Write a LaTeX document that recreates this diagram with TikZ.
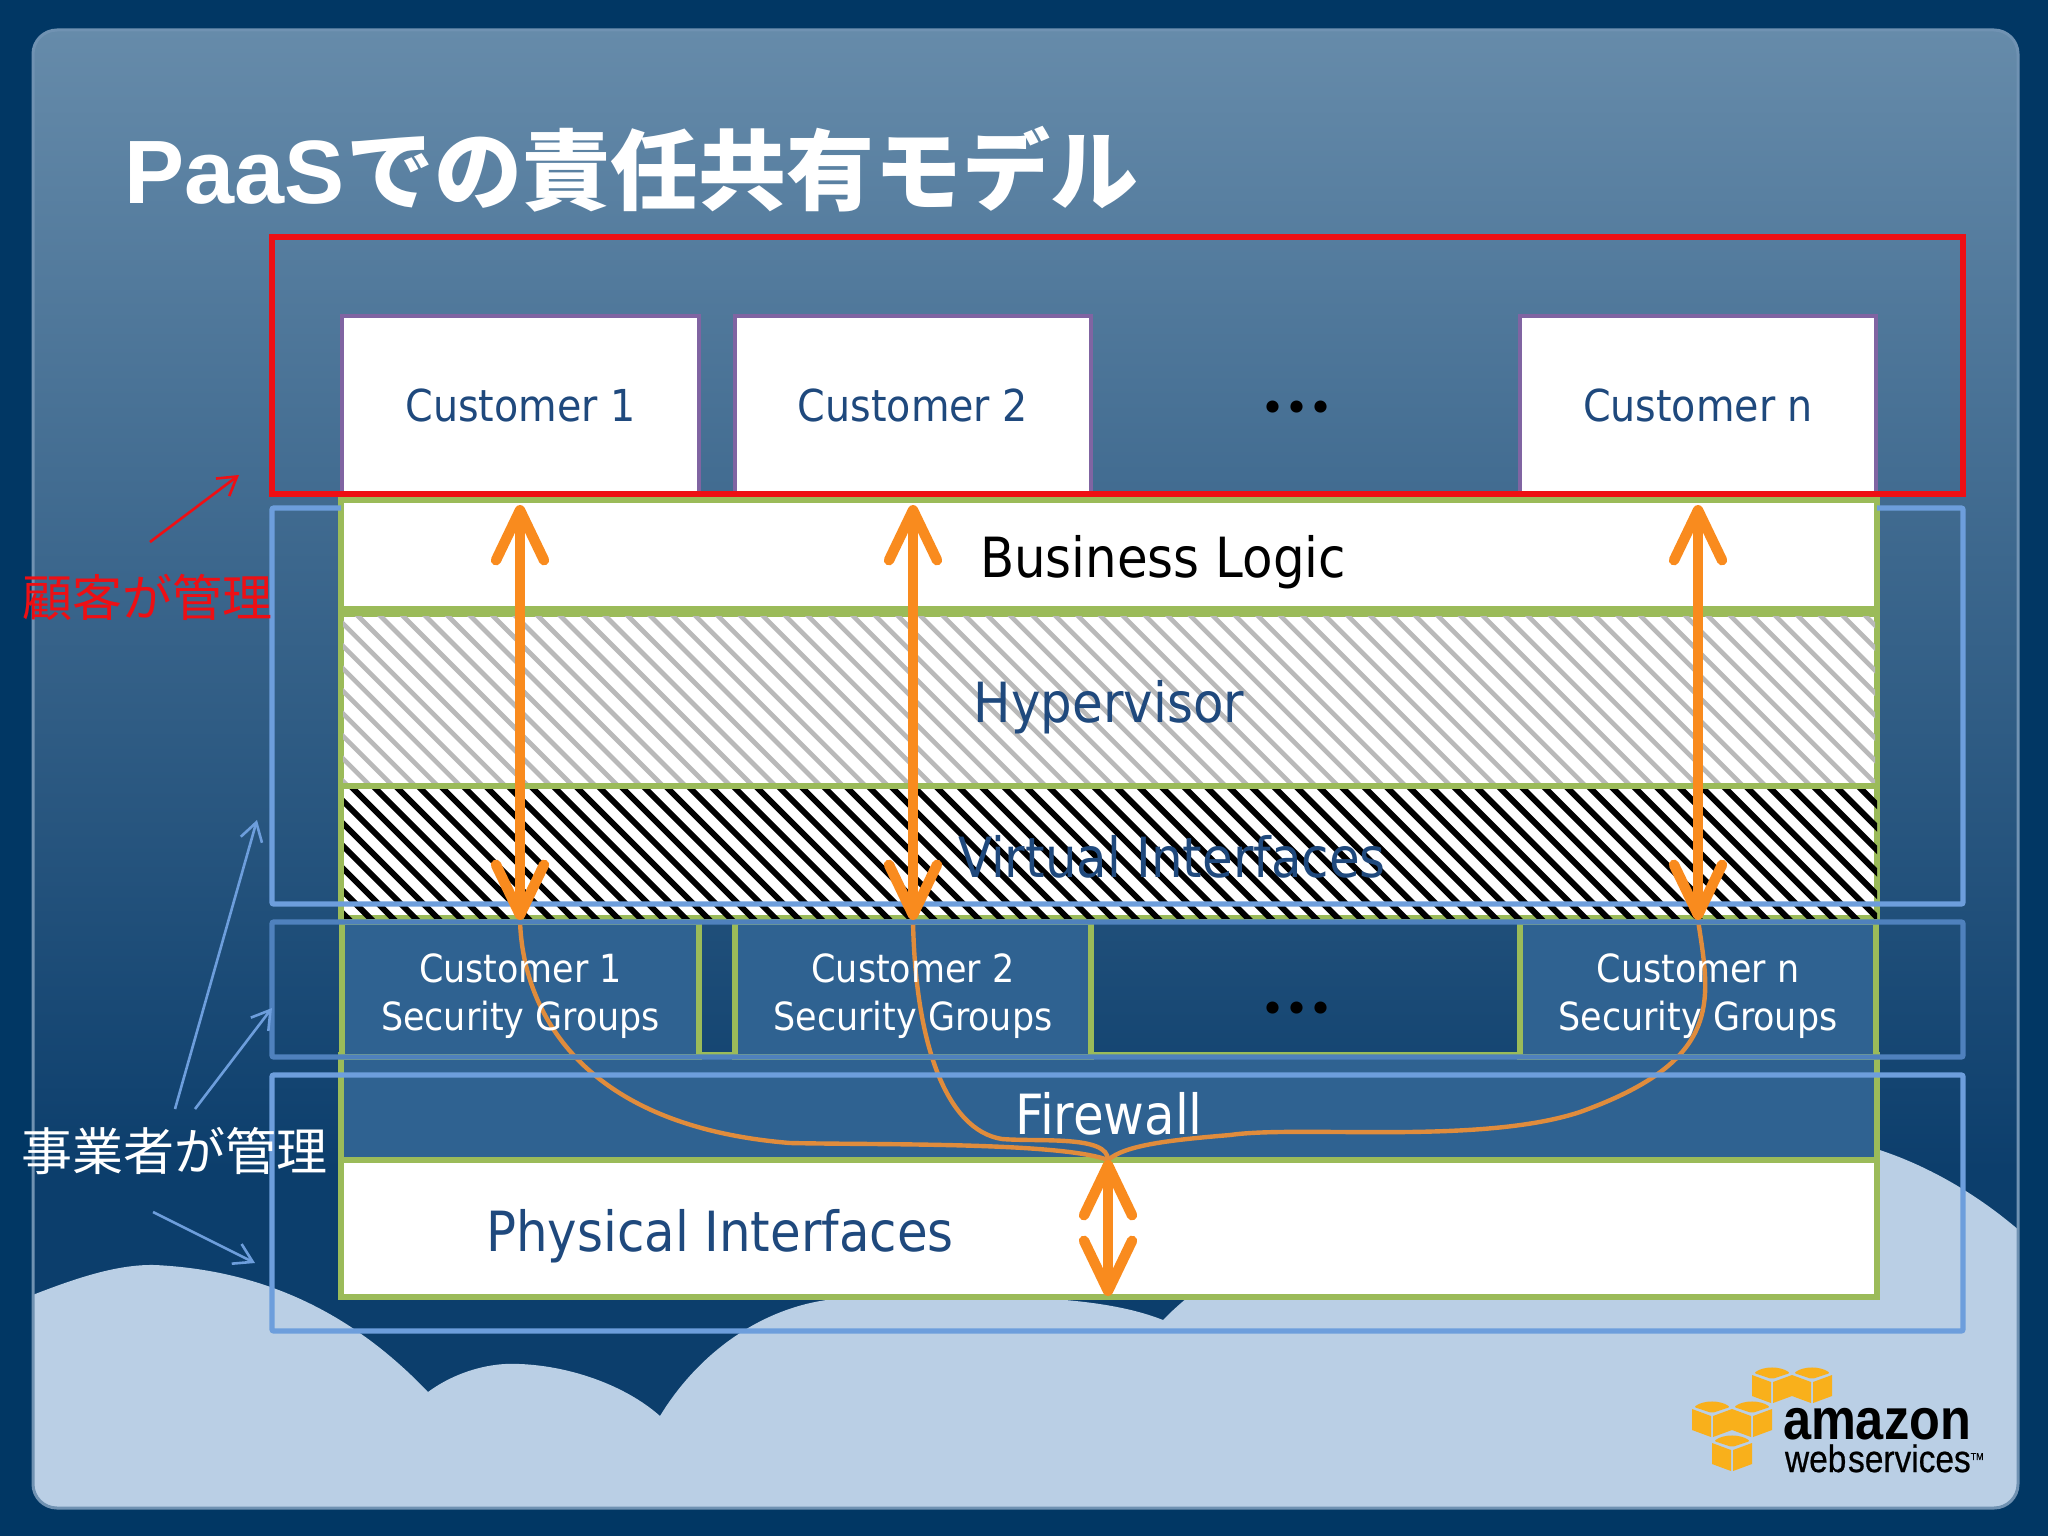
\documentclass[tikz,border=0pt]{standalone}
\usepackage{fontspec}
\setmainfont{DejaVu Sans Condensed}
\newfontfamily\arial{Liberation Sans}
\newfontfamily\cjk{Noto Sans CJK JP}
\newfontfamily\cjkm{Noto Sans CJK JP Medium}
\newfontfamily\lato{Lato}
\usetikzlibrary{arrows.meta,calc}
\definecolor{outer}{HTML}{013764}
\definecolor{ptop}{HTML}{668BAA}
\definecolor{pbot}{HTML}{0C3E6C}
\definecolor{pedge}{HTML}{7092B2}
\definecolor{cloud}{HTML}{BACFE5}
\definecolor{grn}{HTML}{9BBB59}
\definecolor{purp}{HTML}{8064A2}
\definecolor{redl}{HTML}{EE0F14}
\definecolor{blu}{HTML}{6D9EDC}
\definecolor{blud}{HTML}{4F81BD}
\definecolor{orng}{HTML}{F98B1E}
\definecolor{orthin}{HTML}{E08C3C}
\definecolor{navy}{HTML}{1F497D}
\definecolor{secf}{HTML}{2F6291}
\definecolor{cube}{HTML}{F9B01B}
\newcommand{\awscube}[2]{%
  \fill[cube,rounded corners=1pt] (#1-18,#2-12) .. controls (#1-8,#2-19) and (#1+8,#2-19) .. (#1+18,#2-12) -- (#1,#2-6) -- cycle;
  \fill[cube] (#1-20,#2-10) -- (#1-1,#2-3) -- (#1-1,#2+18) -- (#1-20,#2+11) -- cycle;
  \fill[cube] (#1+20,#2-10) -- (#1+1,#2-3) -- (#1+1,#2+18) -- (#1+20,#2+11) -- cycle;}
\tikzset{
  x=0.5pt,y=-0.5pt,
  bx/.style n args={2}{minimum width=#1*0.5pt,minimum height=#2*0.5pt,inner sep=0pt,outer sep=0pt,anchor=north west},
  cust/.style={draw=purp,line width=2.4pt,fill=white,text=navy,font=\fontsize{22}{26}\selectfont},
  secg/.style={draw=grn,line width=2.8pt,fill=secf},
  secl/.style={inner sep=0pt,outer sep=0pt,text=white,align=center,font=\fontsize{19.4}{24}\selectfont},
  layer/.style={draw=grn,line width=2.8pt},
  lbl/.style={inner sep=0pt,outer sep=0pt},
  big/.style={lbl,font=\fontsize{27.7}{32}\selectfont},
  frame/.style={line width=2.7pt,rounded corners=1pt},
  bigarrow/.style={draw=orng,line width=5.2pt,{Straight Barb[length=25pt,width=24pt,round,line width=5.2pt]}-{Straight Barb[length=25pt,width=24pt,round,line width=5.2pt]}},
  route/.style={draw=orthin,line width=2.2pt},
  note/.style={draw=blu,line width=1.3pt,-{Straight Barb[length=9pt,width=11pt]}},
  dotsl/.style={lbl,anchor=base,text=black,font=\lato\bfseries\fontsize{40}{40}\selectfont},
}
\begin{document}
\begin{tikzpicture}
\useasboundingbox (0,0) rectangle (2048,1536);
\fill[outer] (0,0) rectangle (2048,1536);
% panel and clouds
\begin{scope}
  \clip[rounded corners=12pt] (33,30) rectangle (2018,1508);
  \shade[top color=ptop,bottom color=pbot] (33,30) rectangle (2018,1170);
  \fill[pbot] (33,1170) rectangle (2018,1508);
  \fill[cloud] (20,1300) .. controls (70,1280) and (115,1264) .. (155,1265)
     .. controls (260,1270) and (350,1310) .. (428,1392)
     .. controls (455,1372) and (490,1362) .. (520,1364)
     .. controls (570,1366) and (625,1385) .. (660,1416)
     .. controls (700,1350) and (770,1300) .. (850,1298)
     .. controls (1000,1294) and (1100,1295) .. (1163,1320)
     .. controls (1260,1220) and (1500,1135) .. (1777,1133)
     .. controls (1880,1133) and (1970,1185) .. (2030,1240)
     -- (2030,1520) -- (20,1520) -- cycle;
\end{scope}
\draw[pedge,line width=1.5pt,rounded corners=12pt] (33,30) rectangle (2018,1508);
% logo
\awscube{1772}{1385}\awscube{1812}{1385}\awscube{1712}{1419}\awscube{1752}{1419}\awscube{1732}{1453}
\node[lbl,anchor=base west] (amz) at (1783,1439) {\scalebox{.87}[1]{\arial\bfseries\fontsize{29}{30}\selectfont amazon}};
\node[lbl,anchor=base west] (aws) at (1785,1472) {\scalebox{.88}[1]{\arial\fontsize{19}{20}\selectfont\addfontfeature{FakeBold=0.6}web\kern1pt services\raisebox{.6ex}{\fontsize{5}{5}\selectfont TM}}};
% title
\node[lbl,anchor=base west,text=white] (title) at (124,203) {\arial\bfseries\fontsize{45}{48}\selectfont PaaS\kern1pt{\cjkm\fontsize{44}{48}\selectfont での責任共有モデル}};
% customers
\node[cust,bx={357}{178}] (c1) at (342,316) {\raisebox{-2.5pt}{Customer 1}};
\node[cust,bx={356}{178}] (c2) at (735,316) {\raisebox{-2.5pt}{Customer 2}};
\node[cust,bx={356}{178}] (cn) at (1520,316) {\raisebox{-2.5pt}{Customer n}};
\node[dotsl] (dots1) at (1297,412) {.\kern2.5pt.\kern2.5pt.};
% striped layers
\node[layer,fill=white,bx={1536}{172}] (hyp) at (341,614) {};
\begin{scope}
  \clip (343,616) rectangle (1875,784);
  \foreach \i in {0,...,100} \draw[gray!55,line width=2.3pt] (-343+\i*22.5,500) -- ++(400,400);
\end{scope}
\node[layer,fill=white,bx={1536}{132}] (vif) at (341,786) {};
\begin{scope}
  \clip (344,789) rectangle (1877,918);
  \foreach \i in {0,...,100} \draw[black,line width=3pt] (-433+\i*22.5,700) -- ++(300,300);
\end{scope}
\draw[grn,line width=2.8pt] (hyp.south west) -- (hyp.south east);
\draw[grn,line width=2.8pt] (vif.north west) -- (vif.south west);
% lower boxes
\node[secg,bx={1536}{105}] (fw) at (341,1055) {};
\node[secg,bx={357}{135}] (s1) at (342,922) {};
\node[secg,bx={356}{135}] (s2) at (735,922) {};
\node[secg,bx={356}{135}] (sn) at (1520,922) {};
\node[layer,fill=white,bx={1536}{137}] (phy) at (341,1160) {};
\node[layer,fill=white,bx={1536}{109}] (biz) at (341,500) {};
% routes
\coordinate (a1t) at (520,505); \coordinate (a1b) at (520,920);
\coordinate (a2t) at (913,505); \coordinate (a2b) at (913,920);
\coordinate (a3t) at (1698,505); \coordinate (a3b) at (1698,920);
\coordinate (hub) at (1108,1160); \coordinate (hubb) at (1108,1296);
\draw[route] (a1b) .. controls (522,1000) and (570,1125) .. (790,1143) .. controls (880,1145) and (1060,1142) .. (hub);
\draw[route] (a2b) .. controls (915,1040) and (945,1130) .. (1002,1139) .. controls (1040,1142) and (1108,1135) .. (hub);
\draw[route] (a3b) .. controls (1710,1000) and (1725,1060) .. (1580,1112) .. controls (1480,1145) and (1300,1125) .. (1230,1135) .. controls (1170,1140) and (1125,1145) .. (hub);
% frames
\draw[redl,line width=3pt] (272,237) rectangle (1963,494);
\draw[blu,frame] (biz.north west |- 0,508) -- (272,508) -- (272,904) -- (1963,904) -- (1963,508) -- (biz.north east |- 0,508);
\draw[blud,frame] (272,922) rectangle (1963,1057);
\draw[blu,frame] (272,1075) rectangle (1963,1331);
% texts
\node[secl] (t1) at ($(s1.center)+(0,7)$) {Customer 1\\Security Groups};
\node[secl] (t2) at ($(s2.center)+(0,7)$) {Customer 2\\Security Groups};
\node[secl] (t3) at ($(sn.center)+(0,7)$) {Customer n\\Security Groups};
\node[big,text=black] (tb) at (1163,562) {Business Logic};
\node[big,text=navy] (th) at (1109,707) {Hypervisor};
\node[big,text=navy] (tv) at (1172,857) {Virtual Interfaces};
\node[big,text=white] (tf) at (1109,1114) {Firewall};
\node[big,text=navy] (tp) at (720,1236) {Physical Interfaces};
\node[dotsl] (dots2) at (1297,1013) {.\kern2.5pt.\kern2.5pt.};
% big arrows
\draw[bigarrow] (a1t) -- (a1b);
\draw[bigarrow] (a2t) -- (a2b);
\draw[bigarrow] (a3t) -- (a3b);
\draw[bigarrow] (hub) -- (hubb);
% annotations
\node[lbl,text=redl,font=\cjk\fontsize{25}{28}\selectfont] (cu) at (147,597) {顧客が管理};
\node[lbl,text=white,font=\cjk\fontsize{25.5}{28}\selectfont] (op) at (174,1151) {事業者が管理};
\coordinate (rs) at (150,542); \coordinate (re) at (239,475);
\draw[note,draw=redl] (rs) -- (re);
\coordinate (n1s) at (175,1109); \coordinate (n1e) at (257,820);
\coordinate (n2s) at (195,1109); \coordinate (n2e) at (272,1008);
\coordinate (n3s) at (153,1212); \coordinate (n3e) at (255,1263);
\draw[note] (n1s) -- (n1e);
\draw[note] (n2s) -- (n2e);
\draw[note] (n3s) -- (n3e);
\end{tikzpicture}
\end{document}
